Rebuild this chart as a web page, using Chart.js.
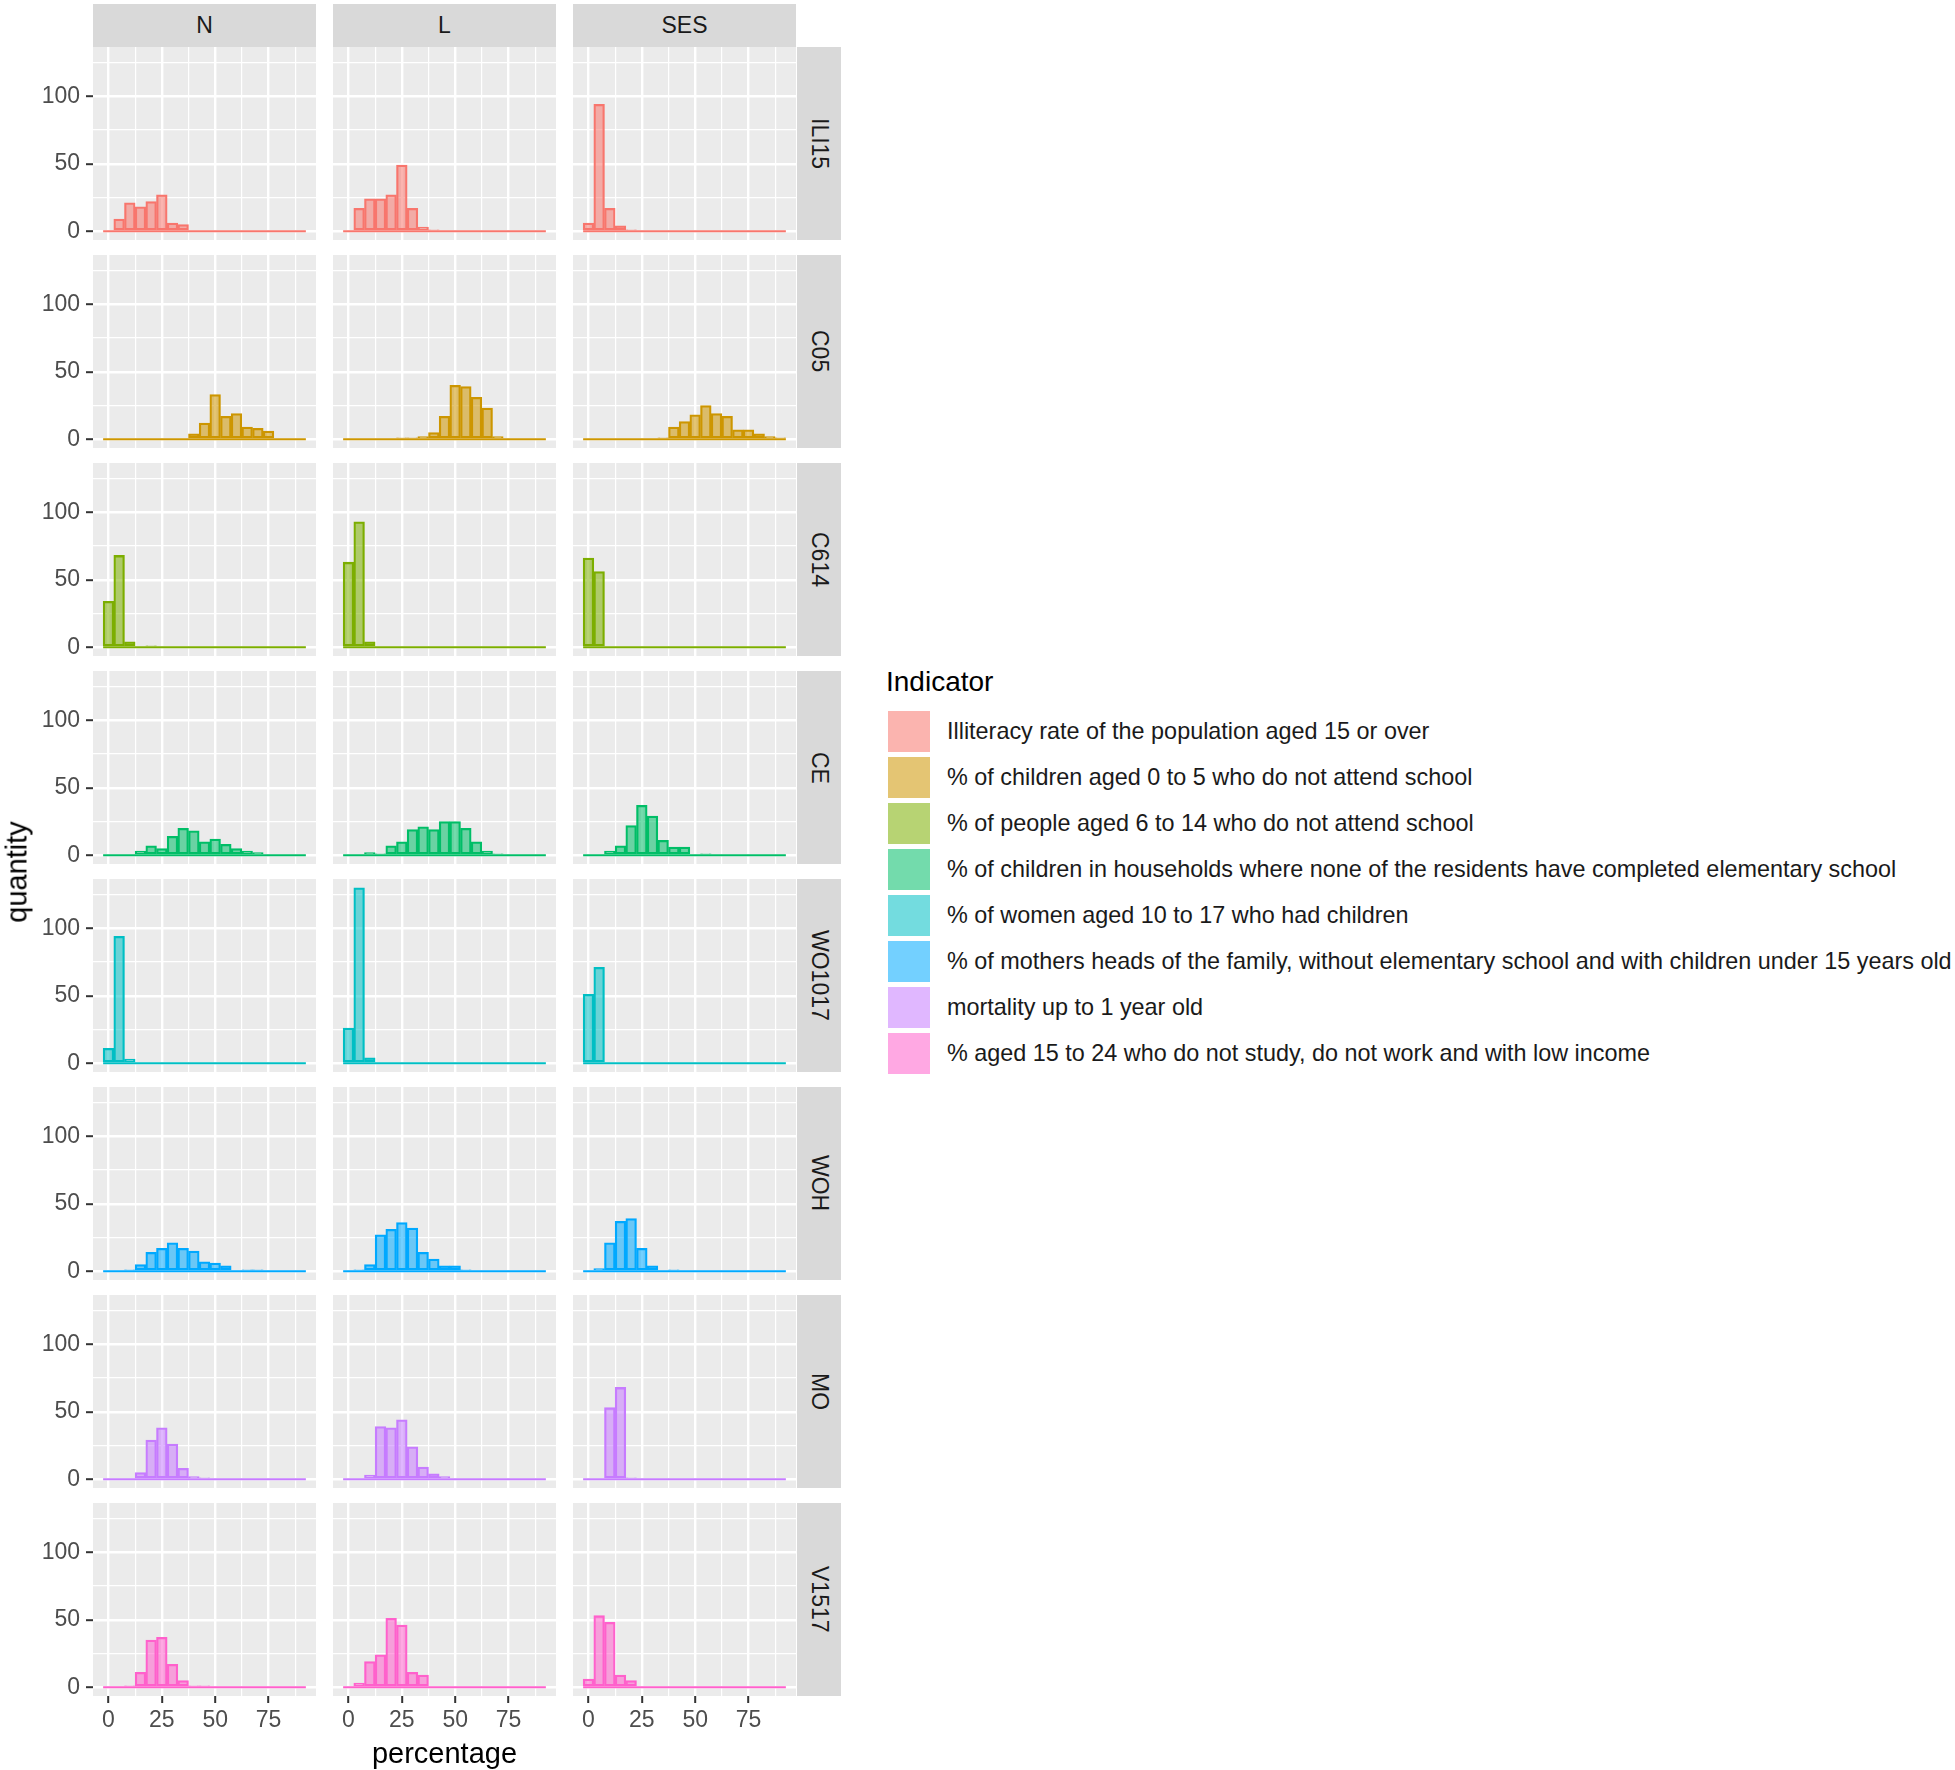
<!DOCTYPE html>
<html>
<head>
<meta charset="utf-8">
<script src="https://cdn.jsdelivr.net/npm/chart.js@4.4.0/dist/chart.umd.min.js"></script>
<style>
  body { margin: 0; background: #fff; }
  #fig { position: relative; width: 1955px; height: 1770px; font-family: "Liberation Sans", Arial, sans-serif; overflow: hidden; }
  canvas { position: absolute; }
  .strip { position: absolute; background: #D9D9D9; color: #1A1A1A; font-size: 23px; display: flex; align-items: center; justify-content: center; }
  .strip.row span { writing-mode: vertical-rl; }
  .title { position: absolute; color: #000; font-size: 29px; white-space: nowrap; }
  .key { position: absolute; width: 42px; height: 41px; }
  .keylab { position: absolute; color: #1A1A1A; font-size: 23.4px; white-space: nowrap; line-height: 41px; }
</style>
</head>
<body>
<div id="fig"></div>
<script>
// histogram bins (bin centres, width 5)
const binCenters = [0, 5, 10, 15, 20, 25, 30, 35, 40, 45, 50, 55, 60, 65, 70, 75, 80, 85, 90];
const binWidth = 5;

const colNames = ["N", "L", "SES"];
const rowNames = ["ILI15", "C05", "C614", "CE", "WO1017", "WOH", "MO", "V1517"];

const indicatorLabels = [
  "Illiteracy rate of the population aged 15 or over",
  "% of children aged 0 to 5 who do not attend school",
  "% of people aged 6 to 14 who do not attend school",
  "% of children in households where none of the residents have completed elementary school",
  "% of women aged 10 to 17 who had children",
  "% of mothers heads of the family, without elementary school and with children under 15 years old",
  "mortality up to 1 year old",
  "% aged 15 to 24 who do not study, do not work and with low income",
];
const colours = ["#F8766D", "#CD9600", "#7CAE00", "#00BE67", "#00BFC4", "#00A9FF", "#C77CFF", "#FF61CC"];

const xTickValues = [0, 12.5, 25, 37.5, 50, 62.5, 75, 87.5];
const xTickLabels = [0, 25, 50, 75];
const yTickValues = [0, 25, 50, 75, 100, 125];
const yTickLabels = [0, 50, 100];

// counts per bin, one array per panel
const ili15N   = [0, 9, 21, 18, 22, 27, 6, 5, 0, 0, 0, 0, 0, 0, 0, 0, 0, 0, 0];
const ili15L   = [0, 17, 24, 24, 27, 49, 17, 3, 1, 0, 0, 0, 0, 0, 0, 0, 0, 0, 0];
const ili15SES = [6, 94, 17, 4, 1, 0, 0, 0, 0, 0, 0, 0, 0, 0, 0, 0, 0, 0, 0];

const c05N   = [0, 0, 0, 0, 0, 0, 0, 0, 4, 12, 33, 17, 19, 9, 8, 6, 0, 0, 0];
const c05L   = [0, 0, 0, 0, 0, 1, 1, 2, 5, 17, 40, 39, 31, 23, 2, 0, 0, 0, 0];
const c05SES = [0, 0, 0, 0, 0, 0, 0, 1, 9, 13, 18, 25, 19, 17, 7, 7, 4, 2, 1];

const c614N   = [34, 68, 4, 0, 1, 0, 0, 0, 0, 0, 0, 0, 0, 0, 0, 0, 0, 0, 0];
const c614L   = [63, 93, 4, 0, 0, 0, 0, 0, 0, 0, 0, 0, 0, 0, 0, 0, 0, 0, 0];
const c614SES = [66, 56, 0, 0, 0, 0, 0, 0, 0, 0, 0, 0, 0, 0, 0, 0, 0, 0, 0];

const ceN   = [0, 0, 0, 3, 7, 5, 14, 20, 18, 10, 12, 8, 5, 3, 2, 0, 0, 0, 0];
const ceL   = [0, 0, 2, 1, 7, 10, 19, 21, 19, 25, 25, 20, 10, 3, 1, 0, 0, 0, 0];
const ceSES = [0, 0, 3, 7, 22, 37, 29, 11, 6, 6, 0, 1, 0, 0, 0, 0, 0, 0, 0];

const wo1017N   = [11, 94, 3, 0, 0, 0, 0, 0, 0, 0, 0, 0, 0, 0, 0, 0, 0, 0, 0];
const wo1017L   = [26, 130, 4, 0, 0, 0, 0, 0, 0, 0, 0, 0, 0, 0, 0, 0, 0, 0, 0];
const wo1017SES = [51, 71, 0, 0, 0, 0, 0, 0, 0, 0, 0, 0, 0, 0, 0, 0, 0, 0, 0];

const wohN   = [0, 0, 1, 5, 14, 17, 21, 17, 15, 7, 6, 4, 0, 1, 1, 0, 0, 0, 0];
const wohL   = [0, 1, 5, 27, 31, 36, 32, 14, 9, 4, 4, 1, 0, 0, 0, 0, 0, 0, 0];
const wohSES = [0, 2, 21, 37, 39, 17, 4, 0, 1, 0, 0, 0, 0, 0, 0, 0, 0, 0, 0];

const moN   = [0, 0, 0, 5, 29, 38, 26, 8, 2, 1, 0, 0, 0, 0, 0, 0, 0, 0, 0];
const moL   = [0, 0, 3, 39, 38, 44, 24, 9, 4, 2, 0, 0, 0, 0, 0, 0, 0, 0, 0];
const moSES = [0, 0, 53, 68, 1, 0, 0, 0, 0, 0, 0, 0, 0, 0, 0, 0, 0, 0, 0];

const v1517N   = [0, 0, 1, 11, 35, 37, 17, 5, 1, 1, 0, 0, 0, 0, 0, 0, 0, 0, 0];
const v1517L   = [0, 3, 19, 24, 51, 46, 11, 9, 0, 0, 0, 0, 0, 0, 0, 0, 0, 0, 0];
const v1517SES = [6, 53, 48, 9, 5, 0, 0, 0, 0, 0, 0, 0, 0, 0, 0, 0, 0, 0, 0];

const panels = [
  [ili15N, ili15L, ili15SES],
  [c05N, c05L, c05SES],
  [c614N, c614L, c614SES],
  [ceN, ceL, ceSES],
  [wo1017N, wo1017L, wo1017SES],
  [wohN, wohL, wohSES],
  [moN, moL, moSES],
  [v1517N, v1517L, v1517SES],
];

// layout (pixels)
const PANEL_X0 = 93, COL_PITCH = 240, PANEL_W = 223;
const PANEL_Y0 = 47, ROW_PITCH = 208, PANEL_H = 193;
const Y_AXIS_W = 93, X_AXIS_H = 48;
const FONT = '"Liberation Sans", Arial, sans-serif';

function alpha(hex, a) {
  const n = parseInt(hex.slice(1), 16);
  return `rgba(${(n >> 16) & 255}, ${(n >> 8) & 255}, ${n & 255}, ${a})`;
}

function isMajor(ctx, labelled) {
  return !!(ctx && ctx.tick && labelled.includes(ctx.tick.value));
}

const panelBackground = {
  id: "panelBackground",
  beforeDraw(chart) {
    const { ctx, chartArea: a } = chart;
    ctx.save();
    ctx.fillStyle = "#EBEBEB";
    ctx.fillRect(a.left, a.top, a.right - a.left, a.bottom - a.top);
    ctx.restore();
  },
};

const fig = document.getElementById("fig");

function addDiv(cls, style, html) {
  const d = document.createElement("div");
  d.className = cls;
  Object.assign(d.style, style);
  d.innerHTML = html;
  fig.appendChild(d);
  return d;
}

// column strips
colNames.forEach((name, c) => {
  addDiv("strip", {
    left: PANEL_X0 + c * COL_PITCH + "px", top: "4px",
    width: PANEL_W + "px", height: PANEL_Y0 - 4 + "px",
  }, name);
});

// row strips
rowNames.forEach((name, r) => {
  addDiv("strip row", {
    left: PANEL_X0 + 2 * COL_PITCH + PANEL_W + 1 + "px", top: PANEL_Y0 + r * ROW_PITCH + "px",
    width: "44px", height: PANEL_H + "px",
  }, "<span>" + name + "</span>");
});

function makePanel(r, c) {
  const counts = panels[r][c];
  const colour = colours[r];
  const leftCol = c === 0;
  const bottomRow = r === rowNames.length - 1;

  const canvas = document.createElement("canvas");
  const w = PANEL_W + (leftCol ? Y_AXIS_W : 0);
  const h = PANEL_H + (bottomRow ? X_AXIS_H : 0);
  canvas.width = w;
  canvas.height = h;
  canvas.style.width = w + "px";
  canvas.style.height = h + "px";
  canvas.style.left = (leftCol ? 0 : PANEL_X0 + c * COL_PITCH) + "px";
  canvas.style.top = PANEL_Y0 + r * ROW_PITCH + "px";
  fig.appendChild(canvas);

  const bars = binCenters.map((x, i) => ({ x: x, y: counts[i] }));
  const baseline = [
    { x: binCenters[0] - binWidth / 2, y: 0 },
    { x: binCenters[binCenters.length - 1] + binWidth / 2, y: 0 },
  ];

  new Chart(canvas, {
    type: "bar",
    data: {
      datasets: [
        {
          type: "bar",
          data: bars,
          backgroundColor: alpha(colour, 0.55),
          borderColor: colour,
          borderWidth: 1.6,
          borderSkipped: false,
          barPercentage: 1,
          categoryPercentage: 1,
          grouped: false,
        },
        {
          type: "line",
          data: baseline,
          borderColor: colour,
          borderWidth: 2.2,
          pointRadius: 0,
        },
      ],
    },
    options: {
      responsive: false,
      animation: false,
      events: [],
      layout: { padding: 0 },
      plugins: { legend: { display: false }, tooltip: { enabled: false } },
      scales: {
        x: {
          type: "linear",
          offset: false,
          min: -7.25,
          max: 97.25,
          afterBuildTicks: (s) => { s.ticks = xTickValues.map((v) => ({ value: v })); },
          afterFit: (s) => {
            s.height = bottomRow ? X_AXIS_H : 0;
            s.paddingLeft = 0;
            s.paddingRight = 0;
          },
          border: { display: false },
          grid: {
            offset: false,
            color: "#FFFFFF",
            tickLength: 7,
            tickWidth: 2,
            drawTicks: bottomRow,
            lineWidth: (ctx) => (isMajor(ctx, xTickLabels) ? 2.4 : 1.2),
            tickColor: (ctx) => (isMajor(ctx, xTickLabels) ? "#333333" : "rgba(0,0,0,0)"),
          },
          ticks: {
            display: bottomRow,
            autoSkip: false,
            maxRotation: 0,
            padding: 4,
            color: "#4D4D4D",
            font: { family: FONT, size: 23 },
            callback: (v) => (xTickLabels.includes(v) ? String(v) : ""),
          },
        },
        y: {
          type: "linear",
          min: -6.5,
          max: 136.5,
          afterBuildTicks: (s) => { s.ticks = yTickValues.map((v) => ({ value: v })); },
          afterFit: (s) => {
            s.width = leftCol ? Y_AXIS_W : 0;
            s.paddingTop = 0;
            s.paddingBottom = 0;
          },
          border: { display: false },
          grid: {
            color: "#FFFFFF",
            tickLength: 7,
            tickWidth: 2,
            drawTicks: leftCol,
            lineWidth: (ctx) => (isMajor(ctx, yTickLabels) ? 2.4 : 1.2),
            tickColor: (ctx) => (isMajor(ctx, yTickLabels) ? "#333333" : "rgba(0,0,0,0)"),
          },
          ticks: {
            display: leftCol,
            padding: 6,
            color: "#4D4D4D",
            font: { family: FONT, size: 23 },
            callback: (v) => (yTickLabels.includes(v) ? String(v) : ""),
          },
        },
      },
    },
    plugins: [panelBackground],
  });
}

for (let r = 0; r < rowNames.length; r++) {
  for (let c = 0; c < colNames.length; c++) makePanel(r, c);
}

// axis titles
addDiv("title", { left: "17px", top: PANEL_Y0 + (7 * ROW_PITCH + PANEL_H) / 2 + "px",
  transform: "translate(-50%, -50%) rotate(-90deg)" }, "quantity");
addDiv("title", { left: PANEL_X0 + (2 * COL_PITCH + PANEL_W) / 2 + "px", top: "1753px",
  transform: "translate(-50%, -50%)" }, "percentage");

// legend
addDiv("title", { left: "886px", top: "666px", fontSize: "28px" }, "Indicator");
indicatorLabels.forEach((label, i) => {
  const top = 711 + i * 46;
  addDiv("key", { left: "888px", top: top + "px", background: alpha(colours[i], 0.55) }, "");
  addDiv("keylab", { left: "947px", top: top + "px" }, label);
});
</script>
</body>
</html>
